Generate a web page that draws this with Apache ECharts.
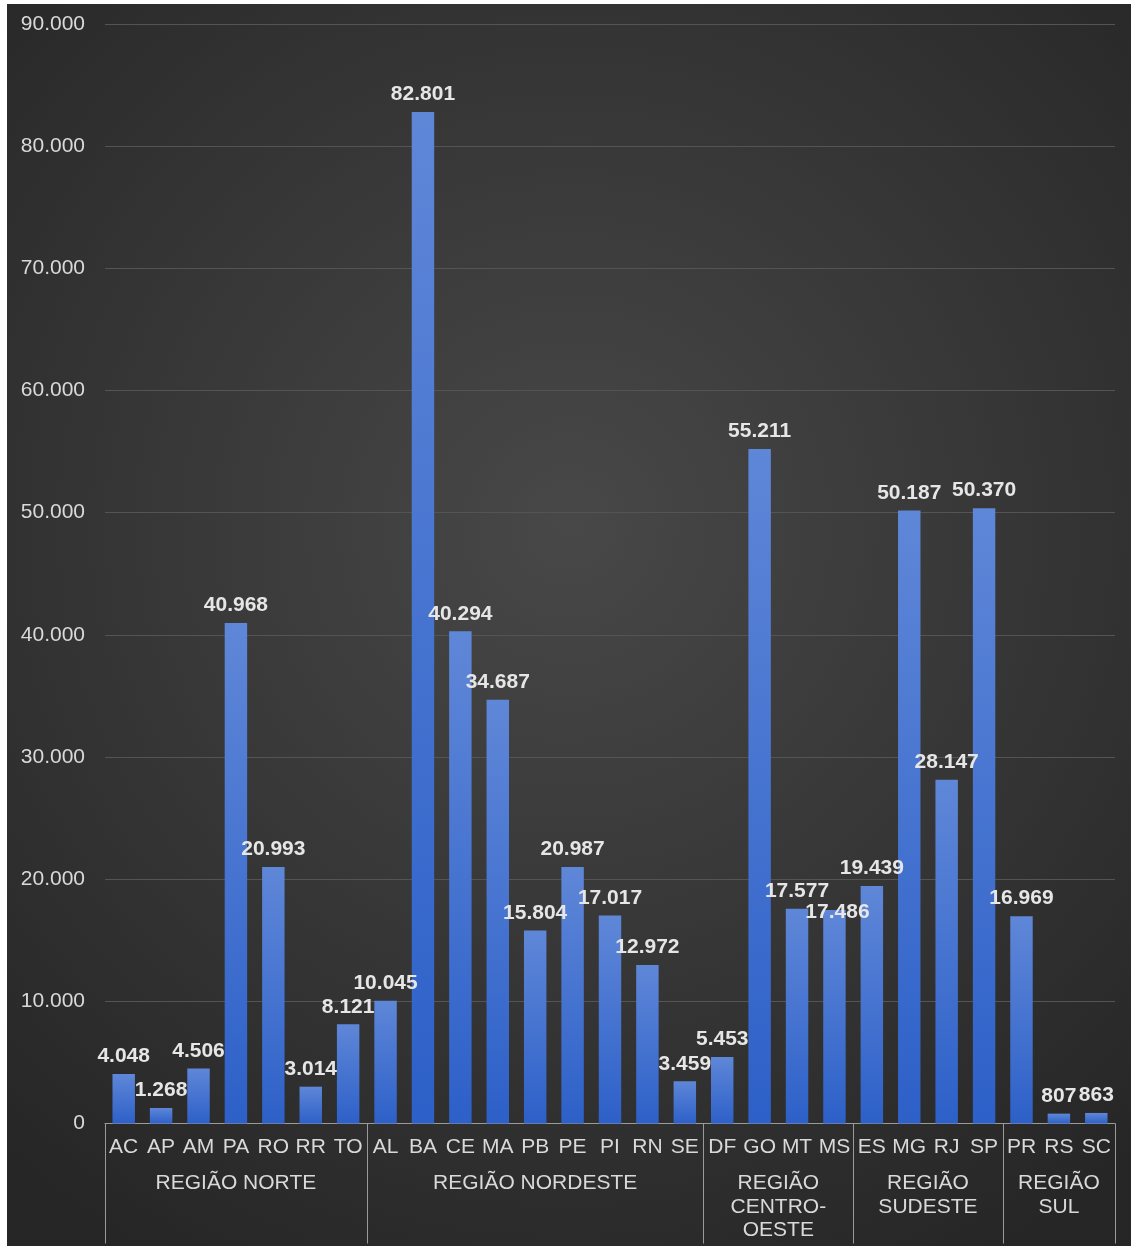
<!DOCTYPE html>
<html>
<head>
<meta charset="utf-8">
<script src="https://cdn.jsdelivr.net/npm/echarts@6/dist/echarts.min.js"></script>
<style>
  html, body { margin: 0; padding: 0; background: #ffffff; }
  #chart { position: absolute; left: 7px; top: 4px; width: 1124px; height: 1242px; }
</style>
</head>
<body>
<div id="chart"></div>
<script>
// States, grouped by region in axis order
const states = ['AC','AP','AM','PA','RO','RR','TO',
                'AL','BA','CE','MA','PB','PE','PI','RN','SE',
                'DF','GO','MT','MS',
                'ES','MG','RJ','SP',
                'PR','RS','SC'];
const values = [4048, 1268, 4506, 40968, 20993, 3014, 8121,
                10045, 82801, 40294, 34687, 15804, 20987, 17017, 12972, 3459,
                5453, 55211, 17577, 17486,
                19439, 50187, 28147, 50370,
                16969, 807, 863];
const regions = ['REGIÃO NORTE', 'REGIÃO NORDESTE', 'REGIÃO\nCENTRO-\nOESTE', 'REGIÃO\nSUDESTE', 'REGIÃO\nSUL'];
const regionSizes = [7, 9, 4, 4, 3];
const yMax = 90000;
const yStep = 10000;

// Region boundaries (in category units) and the middle of each region
const boundaries = [0];
regionSizes.forEach(n => boundaries.push(boundaries[boundaries.length - 1] + n));
const regionMids = regions.map((_, i) => (boundaries[i] + boundaries[i + 1]) / 2);

const fmt = v => String(v).replace(/\B(?=(\d{3})+(?!\d))/g, '.');
const FONT = '"Liberation Sans", Arial, sans-serif';
const TEXT = '#d9d9d9';
const FS = 21;

// MS label nudged so it does not collide with the MT label
const barData = values.map((v, i) =>
  states[i] === 'MS' ? { value: v, label: { offset: [3, 20] } } : v);

const chart = echarts.init(document.getElementById('chart'));
chart.setOption({
  backgroundColor: {
    type: 'radial', x: 0.5, y: 0.42, r: 0.75,
    colorStops: [
      { offset: 0, color: '#484848' },
      { offset: 1, color: '#262626' }
    ]
  },
  animation: false,
  grid: { left: 98, right: 16, top: 20, bottom: 122.5, containLabel: false },
  xAxis: [
    {
      type: 'category',
      data: states,
      position: 'bottom',
      axisLine: { show: true, lineStyle: { color: '#9a9a9a', width: 1 } },
      axisTick: { show: false },
      axisLabel: { interval: 0, margin: 13, color: TEXT, fontSize: FS, fontFamily: FONT }
    },
    {
      type: 'value',
      min: 0,
      max: states.length,
      position: 'bottom',
      axisLine: { show: false },
      splitLine: { show: false },
      axisTick: {
        show: true, length: 120, inside: false,
        customValues: boundaries,
        lineStyle: { color: '#9a9a9a', width: 1 }
      },
      axisLabel: {
        show: true, margin: 48,
        customValues: regionMids,
        formatter: v => regions[regionMids.indexOf(v)] || '',
        color: TEXT, fontSize: FS, fontFamily: FONT, lineHeight: 23.5, align: 'center'
      }
    }
  ],
  yAxis: {
    type: 'value',
    min: 0, max: yMax, interval: yStep,
    axisLine: { show: false },
    axisTick: { show: false },
    axisLabel: { margin: 20, color: TEXT, fontSize: FS, fontFamily: FONT, formatter: v => fmt(v) },
    splitLine: { lineStyle: { color: '#545454', width: 1 } }
  },
  series: [{
    type: 'bar',
    xAxisIndex: 0,
    data: barData,
    barCategoryGap: '40%',
    itemStyle: {
      color: {
        type: 'linear', x: 0, y: 0, x2: 0, y2: 1,
        colorStops: [
          { offset: 0, color: '#5f87d8' },
          { offset: 1, color: '#2d60c8' }
        ]
      }
    },
    label: {
      show: true, position: 'top', distance: 7,
      color: '#e6e6e6', fontSize: FS, fontWeight: 'bold', fontFamily: FONT,
      formatter: p => fmt(p.value)
    }
  }]
});
</script>
</body>
</html>
